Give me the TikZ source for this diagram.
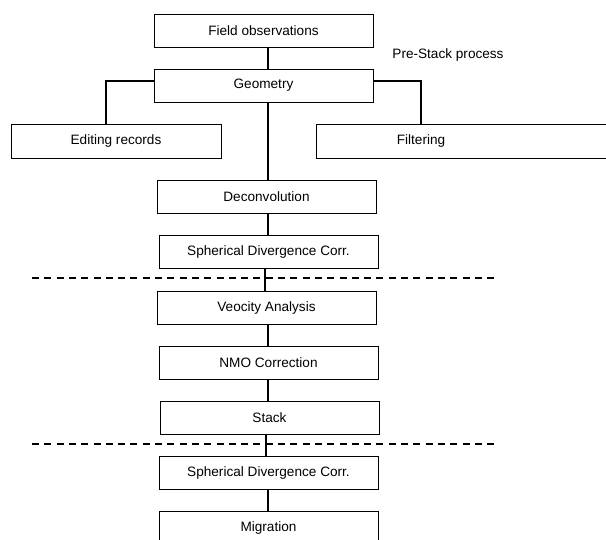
\documentclass[tikz,border=0pt]{standalone}
\usepackage{fontspec}
\setmainfont{Liberation Sans}
\begin{document}
\begin{tikzpicture}[x=1pt,y=-1pt,
  box/.style={draw=black,line width=0.9pt,rectangle,inner sep=0pt,
    font=\fontsize{13.6}{16}\selectfont},
  conn/.style={line width=1.4pt,line cap=butt},
  sep/.style={line width=1.4pt,dash pattern=on 7pt off 5.3pt},
  txt/.style={inner sep=0pt,font=\fontsize{13.6}{16}\selectfont}]
\useasboundingbox (0,0) rectangle (606,540);
% axis coordinates
\coordinate (ax) at (268,0);
\coordinate (axb) at (265,0);
\coordinate (axc) at (266,0);
\coordinate (hl) at (0,81);
\coordinate (lx) at (106,0);
\coordinate (rx) at (421,0);
% boxes
\node[box,minimum width=219,minimum height=33] (fo) at (263.5,30.5) {Field observations};
\node[box,minimum width=219,minimum height=33] (geo) at (263.5,85.5) {Geometry};
\node[box,minimum width=210,minimum height=34] (edit) at (116,141) {Editing records};
\node[box,minimum width=324,minimum height=34] (filt) at (478,141) {};
\node[txt] (filttext) at (421,141) {Filtering};
\node[box,minimum width=219,minimum height=33] (dec) at (266.5,196.5) {Deconvolution};
\node[box,minimum width=219,minimum height=33] (sd1) at (268.5,251.5) {Spherical Divergence Corr.};
\node[box,minimum width=219,minimum height=33] (vel) at (266.5,307.5) {Veocity Analysis};
\node[box,minimum width=219,minimum height=33] (nmo) at (268.5,362.5) {NMO Correction};
\node[box,minimum width=219,minimum height=33] (stk) at (269.5,417.5) {Stack};
\node[box,minimum width=219,minimum height=33] (sd2) at (268.5,472.5) {Spherical Divergence Corr.};
\node[box,minimum width=219,minimum height=34] (mig) at (268.5,528) {Migration};
\node[txt] (pre) at (448,55) {Pre-Stack process};
% connectors
\draw[conn] (fo.south -| ax) -- (geo.north -| ax);
\draw[conn] (geo.west |- hl) -| (edit.north -| lx);
\draw[conn] (geo.east |- hl) -| (filt.north -| rx);
\draw[conn] (geo.south -| ax) -- (dec.north -| ax);
\draw[conn] (dec.south -| ax) -- (sd1.north -| ax);
\draw[conn] (sd1.south -| axb) -- (vel.north -| axb);
\draw[conn] (vel.south -| ax) -- (nmo.north -| ax);
\draw[conn] (nmo.south -| ax) -- (stk.north -| ax);
\draw[conn] (stk.south -| axc) -- (sd2.north -| axc);
\draw[conn] (sd2.south -| ax) -- (mig.north -| ax);
% separators
\coordinate (d1a) at (32,278);
\coordinate (d1b) at (498,278);
\coordinate (d2a) at (32,444);
\coordinate (d2b) at (498,444);
\draw[sep] (d1a) -- (d1b);
\draw[sep] (d2a) -- (d2b);
\end{tikzpicture}
\end{document}
